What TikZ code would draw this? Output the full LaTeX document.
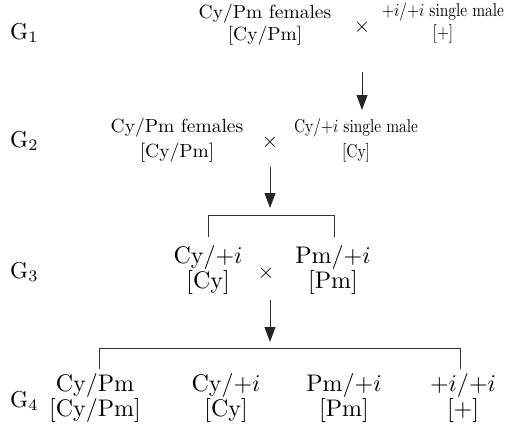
\documentclass[tikz,border=0pt]{standalone}
\usetikzlibrary{arrows.meta}
\newcommand{\twoline}[5]{\scalebox{#1}[#2]{\fontsize{10}{#3}\selectfont\begin{tabular}{@{}c@{}}#4\\{}#5\end{tabular}}}
\begin{document}
\begin{tikzpicture}[x=1pt,y=-1pt,
  txt/.style={inner sep=0pt, outer sep=0pt},
  glabel/.style={inner sep=0pt, anchor=west},
  arr/.style={line width=0.9pt, draw=black!85, -{Triangle[length=15pt,width=11pt]}},
  brk/.style={line width=0.8pt, draw=black!80}
]
\useasboundingbox (0,0) rectangle (505,428);

% generation labels
\node[glabel] (g1) at (10,33) {\scalebox{2.3}{G$_1$}};
\node[glabel] (g2) at (10,141) {\scalebox{2.3}{G$_2$}};
\node[glabel] (g3) at (10,272) {\scalebox{2.3}{G$_3$}};
\node[glabel] (g4) at (10,401) {\scalebox{2.3}{G$_4$}};

% G1
\node[txt] (f1) at (265,25) {\twoline{1.95}{1.9}{12.0}{Cy/Pm females}{[Cy/Pm]}};
\node[txt] (x1) at (362,27) {\scalebox{2.1}{$\times$}};
\node[txt] (m1) at (443,23) {\twoline{1.54}{1.85}{12.2}{$+i/{+i}$ single male}{[$+$]}};

% arrow 1
\coordinate (a1s) at (362,72);
\coordinate (a1e) at (362,110);
\draw[arr] (a1s) -- (a1e);

% G2
\node[txt] (f2) at (177,140) {\twoline{1.95}{1.9}{13.0}{Cy/Pm females}{[Cy/Pm]}};
\node[txt] (x2) at (270,142) {\scalebox{2.1}{$\times$}};
\node[txt] (m2) at (356,140) {\twoline{1.54}{1.85}{13.2}{Cy/$+i$ single male}{[Cy]}};

% arrow 2
\coordinate (a2s) at (270,167);
\coordinate (a2e) at (270,208);
\draw[arr] (a2s) -- (a2e);

% bracket 3
\coordinate (b3l) at (208,237);
\coordinate (b3r) at (334,237);
\draw[brk] (b3l) -- ++(0,-22) -| (b3r);

% G3
\node[txt] (c3a) at (208,270) {\twoline{2.4}{2.4}{9.4}{Cy/$+i$}{[Cy]}};
\node[txt] (x3) at (266,273) {\scalebox{2.1}{$\times$}};
\node[txt] (c3b) at (333,270) {\twoline{2.4}{2.4}{9.4}{Pm/$+i$}{[Pm]}};

% arrow 3
\coordinate (a3s) at (270,300);
\coordinate (a3e) at (270,342);
\draw[arr] (a3s) -- (a3e);

% bracket 4
\coordinate (b4l) at (99,369);
\coordinate (b4r) at (460,369);
\draw[brk] (b4l) -- ++(0,-21) -| (b4r);

% G4
\node[txt] (c4a) at (95,398) {\twoline{2.4}{2.4}{9.0}{Cy/Pm}{[Cy/Pm]}};
\node[txt] (c4b) at (226,398) {\twoline{2.4}{2.4}{9.0}{Cy/$+i$}{[Cy]}};
\node[txt] (c4c) at (344,398) {\twoline{2.4}{2.4}{9.0}{Pm/$+i$}{[Pm]}};
\node[txt] (c4d) at (463,398) {\twoline{2.4}{2.4}{9.0}{$+i/{+i}$}{[$+$]}};
\end{tikzpicture}
\end{document}
